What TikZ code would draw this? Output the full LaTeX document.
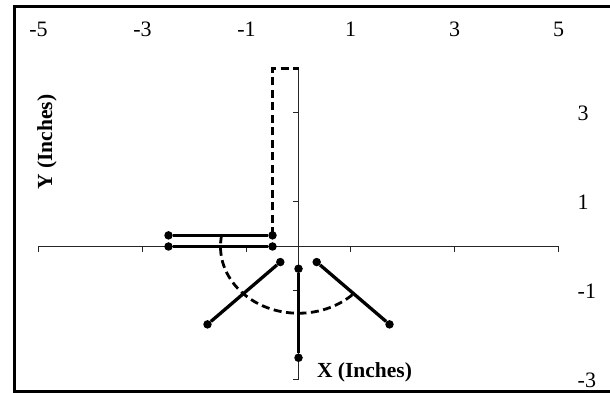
\documentclass[tikz,border=0pt]{standalone}
\usepackage{fontspec}
\setmainfont{Liberation Serif}
\usetikzlibrary{positioning}
\begin{document}
\begin{tikzpicture}[
  x=1pt, y=1pt,
  dot/.style={circle, fill=black, inner sep=0pt, minimum size=8.5pt},
  member/.style={line width=3.3pt},
  trace/.style={line width=2.8pt, dash pattern=on 8pt off 4.5pt},
  axisline/.style={line width=1pt, black!85},
  ticklabel/.style={font=\fontsize{22}{24}\selectfont, inner sep=0pt},
  axistitle/.style={font=\fontsize{21.5}{24}\selectfont\bfseries, inner sep=0pt}
]
\useasboundingbox (0,0) rectangle (610,393);

% frame, open to the right
\draw[line width=3.8pt] (620,386.5) -- (14.5,386.5) -- (14.5,1.5) -- (620,1.5);

\begin{scope}[shift={(298.5,146.5)}, x=52pt, y=44.5pt]

% axes
\draw[axisline] (-5,0) -- (5,0);
\foreach \t in {-5,-3,-1,1,3,5}
  \draw[axisline] (\t,0) -- ++(0pt,-6pt);
\draw[axisline] (0,-3) -- (0,4);
\foreach \t in {-3,-1,1,3}
  \draw[axisline] (0,\t) -- ++(-6pt,0pt);

\foreach \t [count=\i] in {-5,-3,-1,1,3,5}
  \node[ticklabel] (xlab\i) at (\t,217.5pt) {\t};
\foreach \t [count=\i] in {-3,-1,1,3}
  \node[ticklabel, anchor=west] (ylab\i) at (279pt,\t) {\t};

\node[axistitle, anchor=base] (xtitle) at (66pt,-131.5pt) {X (Inches)};
\node[axistitle, rotate=90] (ytitle) at (-251.5pt,104.5pt) {Y (Inches)};

% joints
\node[dot] (ua) at (-2.5,0.25) {};
\node[dot] (ub) at (-0.5,0.25) {};
\node[dot] (la) at (-2.5,0) {};
\node[dot] (lb) at (-0.5,0) {};
\node[dot] (lt) at (-0.35,-0.35) {};
\node[dot] (lf) at (-1.75,-1.75) {};
\node[dot] (ct) at (0,-0.5) {};
\node[dot] (cf) at (0,-2.5) {};
\node[dot] (rt) at (0.35,-0.35) {};
\node[dot] (rf) at (1.75,-1.75) {};

% swept path
\coordinate (top) at (-0.5,4);
\coordinate (topr) at (0,4);
\draw[trace] (ub.center) -- (top) -- (topr);
\draw[trace] (170.4:1.5) arc[start angle=170.4, end angle=315, radius=1.5];

% members
\draw[member] (ua) -- (ub);
\draw[member] (la) -- (lb);
\draw[member] (lt) -- (lf);
\draw[member] (ct) -- (cf);
\draw[member] (rt) -- (rf);

\end{scope}
\end{tikzpicture}
\end{document}
